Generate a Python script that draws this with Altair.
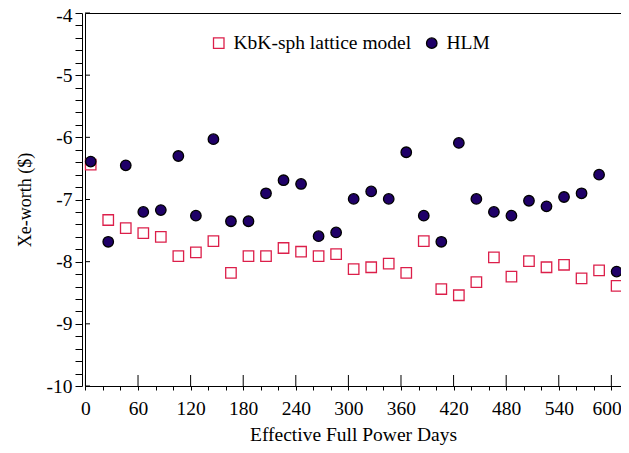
import altair as alt
import pandas as pd

series_names = ["KbK-sph lattice model", "HLM"]

days = [6, 26, 46, 66, 86, 106, 126, 146, 166, 186, 206, 226, 246, 266, 286,
        306, 326, 346, 366, 386, 406, 426, 446, 466, 486, 506, 526, 546, 566, 586, 606]

kbk = [-6.44, -7.33, -7.46, -7.54, -7.60, -7.91, -7.85, -7.67, -8.18, -7.91,
       -7.91, -7.78, -7.84, -7.91, -7.88, -8.12, -8.09, -8.03, -8.18, -7.67,
       -8.44, -8.54, -8.33, -7.93, -8.24, -7.99, -8.09, -8.05, -8.27, -8.14, -8.39]

hlm = [-6.39, -7.68, -6.45, -7.20, -7.17, -6.30, -7.26, -6.03, -7.35, -7.35,
       -6.90, -6.69, -6.75, -7.59, -7.53, -6.99, -6.87, -6.99, -6.24, -7.26,
       -7.68, -6.09, -6.99, -7.20, -7.26, -7.02, -7.11, -6.96, -6.90, -6.60, -8.16]

x_major_ticks = [0, 60, 120, 180, 240, 300, 360, 420, 480, 540, 600]
x_minor_ticks = [0, 20, 40, 60, 80, 100, 120, 140, 160, 180, 200, 220, 240, 260, 280, 300,
                 320, 340, 360, 380, 400, 420, 440, 460, 480, 500, 520, 540, 560, 580, 600]
y_major_ticks = [-10, -9, -8, -7, -6, -5, -4]
y_minor_ticks = [-10.0, -9.8, -9.6, -9.4, -9.2, -9.0, -8.8, -8.6, -8.4, -8.2, -8.0,
                 -7.8, -7.6, -7.4, -7.2, -7.0, -6.8, -6.6, -6.4, -6.2, -6.0,
                 -5.8, -5.6, -5.4, -5.2, -5.0, -4.8, -4.6, -4.4, -4.2, -4.0]

rows = []
for d, v in zip(days, kbk):
    rows.append({"day": d, "value": v, "series": series_names[0]})
for d, v in zip(days, hlm):
    rows.append({"day": d, "value": v, "series": series_names[1]})
df = pd.DataFrame(rows)

FONT = "Liberation Serif"
FS = 19.5
W, H = 536, 373

xscale = alt.Scale(domain=[-0.5, 611], nice=False, zero=False)
yscale = alt.Scale(domain=[-10, -4], nice=False, zero=False)

xaxis = alt.Axis(values=x_minor_ticks, title="Effective Full Power Days",
                 labelExpr="datum.value % 60 == 0 ? '' + datum.value : ''",
                 labelAlign={"condition": {"test": "datum.value == 600", "value": "right"}, "value": "center"},
                 labelOffset={"condition": {"test": "datum.value == 600", "value": 10}, "value": 0},
                 tickSize=4, labelPadding=9, titlePadding=8, grid=False)
yaxis = alt.Axis(values=y_minor_ticks, title="Xe-worth ($)", titleFontSize=18,
                 labelExpr="abs(datum.value - round(datum.value)) < 0.01 ? '' + round(datum.value) : ''",
                 labelOffset={"condition": {"test": "datum.value == -4", "value": 2}, "value": 0},
                 tickSize=7, labelPadding=3, titlePadding=12, offset=3, grid=False)

leg = alt.Legend(title=None, orient="none", legendX=124, legendY=20, direction="horizontal",
                 labelFontSize=FS, labelFont=FONT, labelColor="black", labelOffset=5,
                 labelLimit=400, columnPadding=10, symbolSize=110, symbolStrokeWidth=1.3, padding=0)

points = alt.Chart(df).mark_point(filled=True, opacity=1, size=110, strokeWidth=1.3).encode(
    x=alt.X("day:Q", scale=xscale, axis=xaxis),
    y=alt.Y("value:Q", scale=yscale, axis=yaxis),
    shape=alt.Shape("series:N", scale=alt.Scale(domain=series_names, range=["square", "circle"]), legend=leg),
    fill=alt.Fill("series:N", scale=alt.Scale(domain=series_names, range=["transparent", "#1f0068"]), legend=leg),
    stroke=alt.Stroke("series:N", scale=alt.Scale(domain=series_names, range=["#dc1f4a", "#000000"]), legend=leg),
)

x_in = alt.Chart(pd.DataFrame({"day": x_major_ticks})).mark_rule(color="black", strokeWidth=1).encode(
    x=alt.X("day:Q", scale=xscale, axis=xaxis),
    y=alt.value(H - 11), y2=alt.value(H),
)
y_in = alt.Chart(pd.DataFrame({"value": y_major_ticks})).mark_rule(color="black", strokeWidth=1).encode(
    y=alt.Y("value:Q", scale=yscale, axis=yaxis),
    x=alt.value(0), x2=alt.value(5),
)

chart = alt.layer(points, x_in, y_in).properties(
    width=W, height=H, autosize="none", background="white",
    padding={"left": 77, "top": 5, "right": 0, "bottom": 59},
).configure_view(stroke="black", strokeWidth=1).configure_axis(
    labelFont=FONT, labelFontSize=FS, labelColor="black",
    titleFont=FONT, titleFontSize=FS, titleFontWeight="normal", titleColor="black",
    domainColor="black", tickColor="black", domainWidth=1, tickWidth=1,
)

chart.save("out.html", embed_options={"renderer": "svg", "actions": False})
